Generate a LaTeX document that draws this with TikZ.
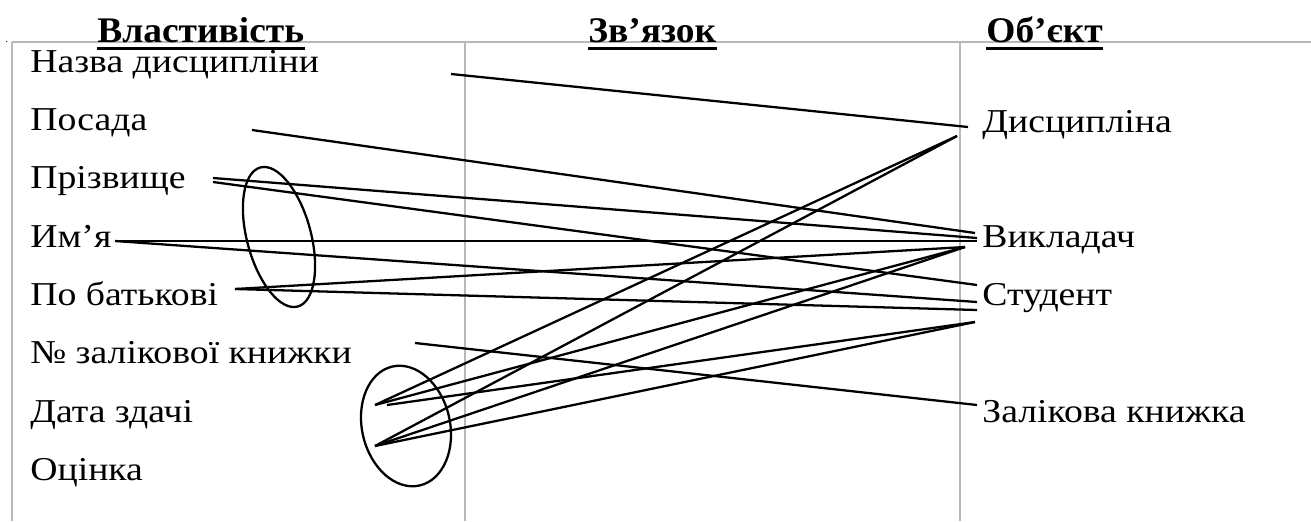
\documentclass[tikz,border=0pt]{standalone}
\usepackage{fontspec}
\setmainfont{Liberation Serif}
\newfontfamily\lblfont{Liberation Serif}[FakeStretch=1.13]
\newfontfamily\hdrfont{Liberation Serif}[FakeStretch=1.04]

\begin{document}
\begin{tikzpicture}[
    x=0.02cm, y=-0.02cm,
    grid/.style={draw=black!28, line width=0.6pt},
    lbl/.style={anchor=base west, inner sep=0pt, font=\lblfont\fontsize{19}{19}\selectfont},
    hdr/.style={anchor=base west, inner sep=0pt, font=\hdrfont\bfseries\fontsize{20.5}{20.5}\selectfont},
    ul/.style={line width=1.7pt},
    link/.style={line width=1.3pt},
    group/.style={line width=1.3pt}
]
\useasboundingbox (0,0) rectangle (1311,521);

% Table rules
\draw[grid] (12,42) -- (1311,42);
\draw[grid] (12,42) -- (12,521);
\draw[grid] (465,42) -- (465,521);
\draw[grid] (960,42) -- (960,521);

% Headers
\node[anchor=base west, inner sep=0pt, font=\fontsize{6}{6}\selectfont] (dot) at (5,42) {.};
\node[hdr] (hprop) at (97,42) {Властивість};
\node[hdr] (hlink) at (588,42) {Зв’язок};
\node[hdr] (hobj) at (986,42) {Об’єкт};
\foreach \h in {hprop,hlink,hobj}
    \draw[ul] ([yshift=-3.6pt]\h.base west) -- ([yshift=-3.6pt]\h.base east);

% Properties
\node[lbl] (nazva) at (30,72) {Назва дисципліни};
\node[lbl] (posada) at (30,130) {Посада};
\node[lbl] (prizv) at (30,188) {Прізвище};
\node[lbl] (imya) at (30,247) {Им’я};
\node[lbl] (batk) at (30,305) {По батькові};
\node[lbl] (zalik) at (30,363) {№ залікової книжки};
\node[lbl] (data) at (30,422) {Дата здачі};
\node[lbl] (ocinka) at (30,480) {Оцінка};

% Objects
\node[lbl] (dysc) at (982,132) {Дисципліна};
\node[lbl] (vykl) at (982,247) {Викладач};
\node[lbl] (stud) at (982,305) {Студент};
\node[lbl] (zkn) at (982,422) {Залікова книжка};

% Line ends
\coordinate (nazva-r) at (451,74);
\coordinate (posada-r) at (252,130);
\coordinate (prizv-a) at (213,178);
\coordinate (prizv-b) at (213,182);
\coordinate (imya-r) at (115,241);
\coordinate (batk-r) at (235,289);
\coordinate (zalik-r) at (415,343);
\coordinate (data-a) at (375,405);
\coordinate (data-b) at (387,405);
\coordinate (ocinka-r) at (375,446);
\coordinate (dysc-a) at (968,127);
\coordinate (dysc-b) at (957,136);
\coordinate (vykl-a) at (975,233);
\coordinate (vykl-b) at (977,238);
\coordinate (vykl-c) at (977,241);
\coordinate (vykl-d) at (965,247);
\coordinate (stud-a) at (977,285);
\coordinate (stud-b) at (977,302);
\coordinate (stud-c) at (977,310);
\coordinate (stud-d) at (975,322);
\coordinate (zkn-l) at (977,405);

% Links
\draw[link] (nazva-r) -- (dysc-a);
\draw[link] (posada-r) -- (vykl-a);
\draw[link] (prizv-a) -- (vykl-b);
\draw[link] (prizv-b) -- (stud-a);
\draw[link] (imya-r) -- (vykl-c);
\draw[link] (imya-r) -- (stud-b);
\draw[link] (batk-r) -- (vykl-d);
\draw[link] (batk-r) -- (stud-c);
\draw[link] (zalik-r) -- (zkn-l);
\draw[link] (data-a) -- (dysc-b);
\draw[link] (data-a) -- (vykl-d);
\draw[link] (data-b) -- (stud-d);
\draw[link] (ocinka-r) -- (dysc-b);
\draw[link] (ocinka-r) -- (vykl-d);
\draw[link] (ocinka-r) -- (stud-d);

% Composite groups
\draw[group, rotate around={15:(279,237)}] (279,237) ellipse [x radius=32, y radius=72];
\draw[group, rotate around={13:(406,426)}] (406,426) ellipse [x radius=44, y radius=61];
\end{tikzpicture}
\end{document}
